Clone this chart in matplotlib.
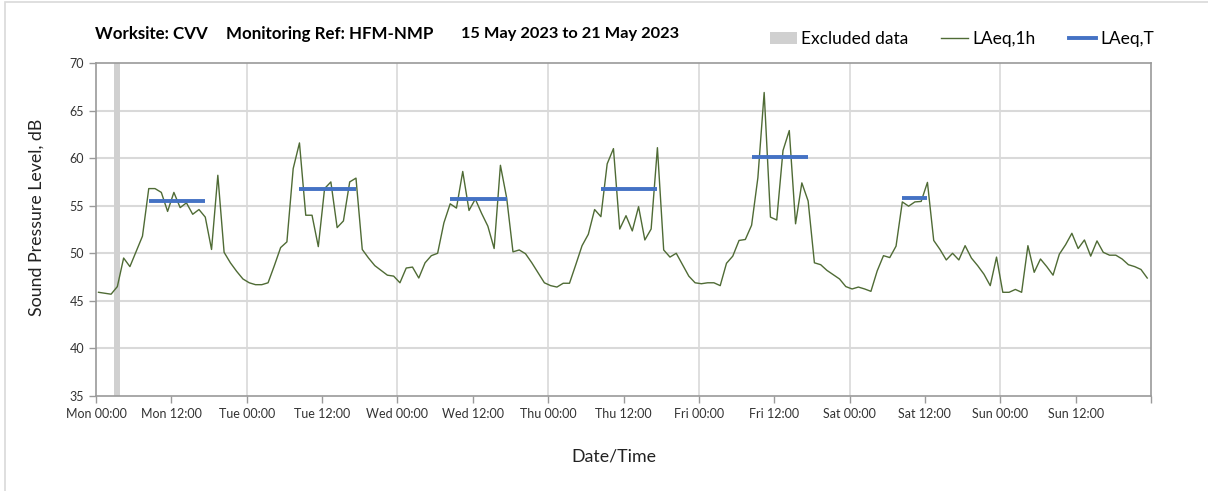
import matplotlib.pyplot as plt
from matplotlib.patches import Patch, Rectangle
from matplotlib.lines import Line2D
import numpy as np

plt.rcParams['font.family'] = ['Lato', 'DejaVu Sans']

# hourly LAeq,1h values, Mon 00:00 -> Sun 23:00
laeq_1h = [
    45.9, 45.8, 45.7, 46.5, 49.5, 48.6, 50.2, 51.8, 56.8, 56.8, 56.4, 54.4,
    56.4, 54.8, 55.3, 54.1, 54.6, 53.8, 50.4, 58.2, 50.1, 49.0, 48.1, 47.3,
    46.9, 46.7, 46.7, 46.9, 48.7, 50.6, 51.2, 58.9, 61.6, 54.0, 54.0, 50.7,
    56.8, 57.5, 52.7, 53.4, 57.5, 57.9, 50.4, 49.5, 48.7, 48.2, 47.7, 47.6,
    46.9, 48.45, 48.55, 47.4, 49.0, 49.75, 50.0, 53.2, 55.2, 54.75, 58.6, 54.5,
    55.7, 54.2, 52.85, 50.5, 59.25, 55.8, 50.15, 50.35, 49.95, 49.0, 47.95, 46.9,
    46.6, 46.45, 46.85, 46.85, 48.8, 50.8, 52.0, 54.6, 53.85, 59.4, 61.0, 52.55,
    53.95, 52.35, 54.9, 51.4, 52.55, 61.1, 50.35, 49.6, 50.0, 48.8, 47.6, 46.9,
    46.8, 46.9, 46.9, 46.6, 48.95, 49.7, 51.35, 51.45, 52.95, 57.95, 66.9, 53.8,
    53.5, 60.8, 62.9, 53.1, 57.4, 55.5, 49.0, 48.8, 48.2, 47.75, 47.3, 46.5,
    46.25, 46.45, 46.25, 46.0, 48.15, 49.75, 49.55, 50.75, 55.4, 54.95, 55.4, 55.45,
    57.45, 51.35, 50.4, 49.3, 50.0, 49.3, 50.8, 49.5, 48.7, 47.8, 46.6, 49.6,
    45.9, 45.9, 46.2, 45.9, 50.8, 48.0, 49.4, 48.6, 47.7, 49.9, 50.9, 52.1,
    50.5, 51.4, 49.7, 51.3, 50.1, 49.8, 49.8, 49.4, 48.8, 48.6, 48.3, 47.4,
]

# LAeq,T over the working periods (hour index start/end)
laeq_t_start = [8, 32, 56, 80, 104, 128]
laeq_t_end = [17, 41, 65, 89, 113, 132]
laeq_t_level = [55.5, 56.8, 55.7, 56.8, 60.1, 55.8]

# excluded period (hours from Mon 00:00)
excluded_start = 2.9
excluded_end = 3.8

days = ['Mon', 'Tue', 'Wed', 'Thu', 'Fri', 'Sat', 'Sun']
tick_labels = [f'{d} {t}' for d in days for t in ('00:00', '12:00')]

hours = np.arange(len(laeq_1h)) + 0.4

fig = plt.figure(figsize=(12.08, 4.91), dpi=100)
ax = fig.add_axes([96 / 1208, 1 - 396 / 491, 1055 / 1208, 333 / 491])

# light frame round the whole chart
fig.add_artist(Rectangle((5 / 1208, -0.1), 1.2, 1 - 2 / 491 + 0.1,
                         transform=fig.transFigure, fill=False,
                         edgecolor='#d9d9d9', linewidth=1.2))

ax.axvspan(excluded_start, excluded_end, color='#d0d0d0', lw=0, zorder=1)
ax.plot(hours, laeq_1h, color='#4f6b35', lw=1.0, zorder=3)
ax.hlines(laeq_t_level, np.array(laeq_t_start) + 0.4, np.array(laeq_t_end) + 0.4,
          color='#4472c4', lw=2.8, zorder=4)

ax.set_xlim(0, 168)
ax.set_ylim(35, 70)
ax.set_xticks(np.arange(0, 169, 12))
ax.set_xticklabels(tick_labels + [''])
ax.set_yticks(np.arange(35, 71, 5))

ax.grid(False)
for x in np.arange(24, 168, 24):
    ax.axvline(x, color='#d9d9d9', lw=1.2, zorder=0)
for y in np.arange(40, 70, 5):
    ax.axhline(y, color='#d9d9d9', lw=1.5, zorder=0)

for s in ax.spines.values():
    s.set_color('#9a9a9a')
    s.set_linewidth(1.2)
ax.tick_params(axis='both', colors='#9a9a9a', length=5, width=1.0,
               labelcolor='#333333', labelsize=9)
ax.tick_params(axis='x', pad=4)

ax.set_ylabel('Sound Pressure Level, dB', fontsize=12.8, color='#222222')
ax.set_xlabel('Date/Time', fontsize=12.8, color='#222222')
ax.yaxis.set_label_coords(-59 / 1055, (396 - 217) / 333)
ax.xaxis.set_label_coords((614 - 96) / 1055, -(456 - 396) / 333)
ax.xaxis.label.set_va('center')
ax.yaxis.label.set_va('center')

ty = 1 - 34 / 491
fig.text(95 / 1208, ty, 'Worksite: CVV', fontsize=12.2, fontweight='bold', va='center')
fig.text(226 / 1208, ty, 'Monitoring Ref: HFM-NMP', fontsize=12.2, fontweight='bold', va='center')
fig.text(461 / 1208, ty, '15 May 2023 to 21 May 2023', fontsize=11.8, fontweight='bold', va='center')

handles = [
    Patch(facecolor='#d0d0d0', edgecolor='none', label='Excluded data'),
    Line2D([], [], color='#4f6b35', lw=1.0, label='LAeq,1h'),
    Line2D([], [], color='#4472c4', lw=2.8, label='LAeq,T'),
]
fig.legend(handles=handles, loc='center right', bbox_to_anchor=(1166 / 1208, 1 - 39 / 491),
           ncol=3, frameon=False, fontsize=12.5, handlelength=1.55, handleheight=0.75,
           handletextpad=0.25, columnspacing=1.9, borderpad=0.2)

fig.savefig('out.png', dpi=100)
